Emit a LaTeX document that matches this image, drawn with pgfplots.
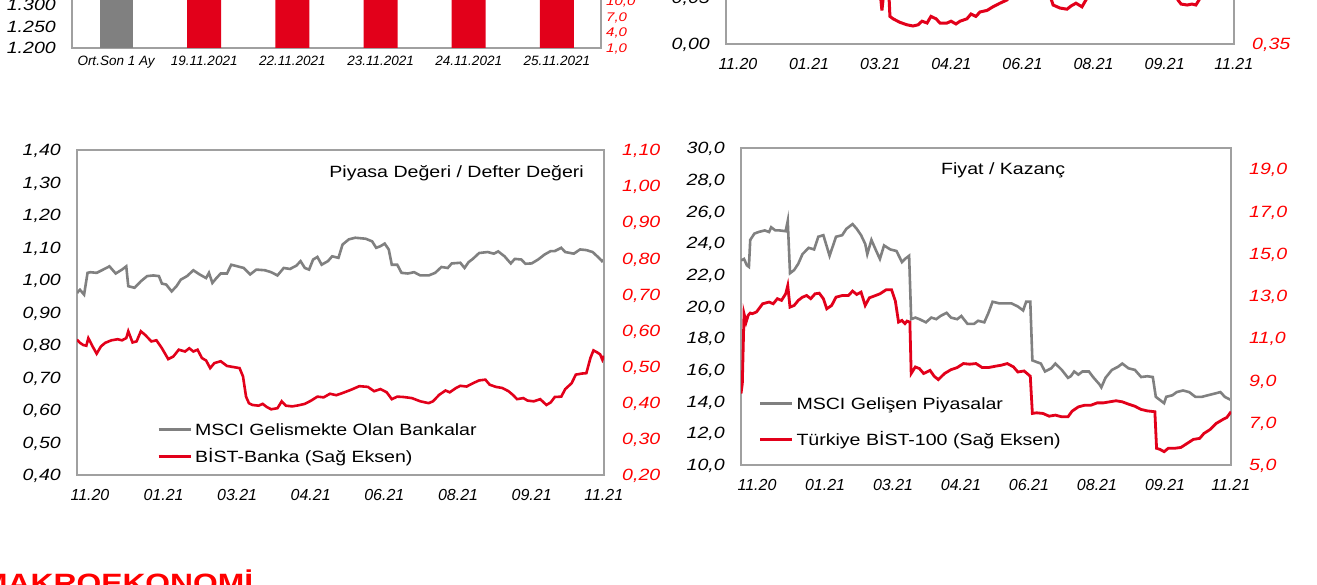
\documentclass[border=0pt]{standalone}
\usepackage{pgfplots}
\pgfplotsset{compat=1.18}
\usepackage{fontspec}
\setmainfont{Liberation Sans}[FakeStretch=1.2]
\newfontfamily\xlabfont{Liberation Sans}[FakeStretch=1.0]
\definecolor{boxgray}{RGB}{160,160,160}
\definecolor{sergray}{RGB}{128,128,128}
\definecolor{serred}{RGB}{226,0,26}
\definecolor{labred}{RGB}{255,0,0}
\pgfplotsset{
  mybase/.style={
    scale only axis, anchor=south west, enlargelimits=false,
    axis line style={draw=boxgray, line width=1.4pt},
    major tick length=0pt,
    /pgf/number format/assume math mode=true,
    /pgf/number format/use comma,
    /pgf/number format/fixed,
    /pgf/number format/fixed zerofill,
    scaled y ticks=false,
    y tick label style={font=\fontsize{16.3}{18}\selectfont\itshape, inner sep=0pt, text depth=0pt},
    x tick label style={font=\xlabfont\fontsize{16}{18}\selectfont\itshape, inner sep=0pt},
    xticklabel shift=14.5pt,
    yticklabel shift=16pt,
  },
  myright/.style={
    axis y line*=right, hide x axis,
    y tick label style={text=labred},
    yticklabel shift=18pt,
  },
  mylegend/.style={
    legend style={draw=none, fill=none, inner sep=0pt, outer sep=0pt,
      column sep=3pt, font=\fontsize{16.3}{18}\selectfont,
      nodes={inner sep=0pt, text height=12pt, text depth=0pt}},
    legend cell align=left,
    legend image code/.code={\draw[##1, line width=3pt] (0pt,0pt) -- (32pt,0pt);},
  },
}
\begin{document}
\begin{tikzpicture}
\useasboundingbox (0pt,0pt) rectangle (1317pt,584pt);
\clip (0pt,0pt) rectangle (1317pt,584pt);

% ---------- top-left bar chart (cut off) ----------
\begin{axis}[mybase, at={(72pt,536pt)}, width=529pt, height=108pt,
  xmin=-0.5, xmax=5.5, ymin=1200, ymax=1451,
  ytick={1200,1250,1300,1350,1400,1450}, /pgf/number format/precision=0,
  xtick={0,1,2,3,4,5},
  xticklabels={Ort.Son 1 Ay,19.11.2021,22.11.2021,23.11.2021,24.11.2021,25.11.2021},
  x tick label style={font=\xlabfont\fontsize{13.5}{15}\selectfont\itshape},
  xticklabel shift=8pt, ytick pos=left, xtick pos=bottom]
\addplot[ybar, bar width=33pt, bar shift=0pt, fill=sergray, draw=none] coordinates {(0,1520)};
\addplot[ybar, bar width=34pt, bar shift=0pt, fill=serred, draw=none] coordinates {(1,1530)(2,1525)(3,1528)(4,1532)(5,1535)};
\end{axis}
\begin{axis}[mybase, myright, at={(72pt,536pt)}, width=529pt, height=108pt,
  xmin=-0.5, xmax=5.5, ymin=1, ymax=21.9, ytick={1,4,7,10,13,16,19},
  /pgf/number format/precision=1,
  y tick label style={font=\fontsize{12.5}{14}\selectfont\itshape},
  yticklabel shift=5pt]
\end{axis}

% ---------- top-right line chart (cut off) ----------
\begin{axis}[mybase, at={(726pt,540pt)}, width=508pt, height=104pt,
  xmin=0, xmax=260, ymin=0, ymax=0.113, ytick={0,0.05,0.1},
  /pgf/number format/precision=2, ytick pos=left, xtick pos=bottom,
  xtick={6.1,42.5,78.9,115.3,151.7,188.1,224.5,259.9},
  xticklabels={11.20,01.21,03.21,04.21,06.21,08.21,09.21,11.21}]
\end{axis}
\begin{axis}[mybase, myright, at={(726pt,540pt)}, width=508pt, height=104pt,
  xmin=0, xmax=260, ymin=0.35, ymax=0.4367, ytick={0.35,0.40,0.45},
  /pgf/number format/precision=2]
\addplot[serred, line width=3pt] coordinates {
(0,0.420)(37.9,0.424)(68.6,0.412)(77.8,0.412)(79.8,0.378)(81.4,0.403)(82.9,0.408)
(83.9,0.373)(85.5,0.371)(89.1,0.368)(92.6,0.366)(95.7,0.365)(98.3,0.366)(100.3,0.369)
(102.9,0.3675)(104.9,0.373)(107.5,0.371)(109.5,0.3675)(113.1,0.3675)(115.2,0.369)
(117.7,0.3667)(119.8,0.369)(123.3,0.371)(125.4,0.375)(127.9,0.373)(130.0,0.3767)
(133.6,0.378)(136.6,0.381)(140.2,0.384)(143.8,0.3867)(147.9,0.395)(155.6,0.412)
(163.3,0.403)(167.4,0.3825)(170.9,0.380)(174.5,0.379)(176.6,0.3817)(179.1,0.384)
(182.2,0.381)(184.2,0.3867)(188.9,0.399)(206.8,0.412)(227.2,0.403)(231.3,0.3867)
(232.9,0.3833)(236.0,0.3825)(238.5,0.3833)(240.5,0.3825)(242.1,0.3867)(247.7,0.408)(260,0.416)};
\end{axis}

% ---------- middle-left chart ----------
\begin{axis}[mybase, at={(77pt,109pt)}, width=527pt, height=325pt,
  xmin=0, xmax=260, ymin=0.4, ymax=1.4,
  ytick={0.4,0.5,0.6,0.7,0.8,0.9,1.0,1.1,1.2,1.3,1.4},
  /pgf/number format/precision=2, ytick pos=left, xtick pos=bottom,
  xtick={6.4,42.7,79.0,115.3,151.6,188.0,224.3,259.9},
  xticklabels={11.20,01.21,03.21,04.21,06.21,08.21,09.21,11.21}]
\addplot[sergray, line width=2.6pt] coordinates {
(0,0.960)(1.45,0.970)(3.5,0.955)(5.2,1.022)(6.6,1.024)(9.7,1.022)(12.9,1.032)(16.0,1.042)
(19.1,1.020)(22.2,1.032)(24.3,1.042)(25.3,0.981)(28.4,0.976)(31.5,0.996)(34.6,1.012)
(37.7,1.014)(40.4,1.012)(41.9,0.989)(44.0,0.986)(46.7,0.965)(49.1,0.981)(51.2,1.001)
(54.3,1.012)(57.4,1.030)(60.5,1.017)(63.7,1.006)(65.1,1.022)(66.8,0.991)(68.8,1.006)
(70.9,1.020)(74.0,1.020)(76.1,1.047)(79.2,1.042)(82.3,1.037)(85.4,1.017)(88.5,1.032)
(92.7,1.030)(95.8,1.024)(98.9,1.014)(102.0,1.037)(105.1,1.034)(108.2,1.044)(110.3,1.058)
(112.4,1.037)(114.5,1.032)(116.5,1.063)(118.6,1.071)(120.7,1.047)(123.8,1.058)(125.9,1.073)
(129.0,1.068)(131.0,1.109)(134.1,1.125)(137.3,1.130)(142.4,1.127)(145.6,1.119)(147.6,1.099)
(149.7,1.104)(151.8,1.112)(153.8,1.094)(155.3,1.047)(158.0,1.047)(160.1,1.022)(163.2,1.020)
(166.3,1.024)(169.4,1.014)(173.5,1.014)(176.7,1.022)(179.8,1.040)(182.9,1.037)(184.9,1.051)
(189.1,1.053)(191.2,1.037)(193.2,1.055)(195.3,1.065)(198.4,1.083)(202.6,1.086)(205.7,1.081)
(207.8,1.088)(210.9,1.073)(214.0,1.051)(216.0,1.065)(219.2,1.063)(221.2,1.050)(224.3,1.051)
(227.5,1.063)(230.6,1.078)(233.7,1.089)(235.7,1.089)(238.9,1.099)(240.9,1.086)(245.1,1.081)
(248.2,1.094)(251.3,1.092)(254.4,1.086)(257.5,1.068)(259.0,1.058)(260,1.063)};
\node[anchor=east, inner sep=0pt, text height=12pt, text depth=0pt,
  font=\fontsize{16.3}{18}\selectfont] at (rel axis cs:0.962,0.934) {Piyasa Değeri / Defter Değeri};
\end{axis}
\begin{axis}[mybase, myright, mylegend, at={(77pt,109pt)}, width=527pt, height=325pt,
  xmin=0, xmax=260, ymin=0.2, ymax=1.1,
  ytick={0.2,0.3,0.4,0.5,0.6,0.7,0.8,0.9,1.0,1.1},
  /pgf/number format/precision=2,
  legend style={at={(0.152,0.16)}, anchor=north west, row sep=15pt}]
\addlegendimage{sergray, line width=2.6pt}
\addlegendentry{MSCI Gelismekte Olan Bankalar}
\addplot[serred, line width=2.6pt] coordinates {
(0,0.575)(1.45,0.566)(3.1,0.560)(4.6,0.558)(5.6,0.579)(7.7,0.556)(9.7,0.536)(11.8,0.556)
(13.9,0.566)(17.0,0.573)(20.1,0.576)(22.2,0.573)(24.3,0.579)(25.3,0.598)(27.4,0.567)
(29.4,0.570)(31.5,0.598)(33.6,0.588)(36.7,0.570)(39.2,0.573)(41.9,0.551)(45.0,0.521)
(47.5,0.528)(50.2,0.547)(53.3,0.542)(55.4,0.551)(57.4,0.542)(59.5,0.547)(61.6,0.524)
(63.7,0.517)(65.7,0.496)(67.8,0.510)(70.9,0.515)(74.0,0.502)(77.1,0.499)(80.2,0.496)
(81.9,0.473)(83.4,0.417)(84.8,0.399)(86.5,0.394)(89.6,0.392)(91.6,0.397)(93.7,0.388)
(95.8,0.382)(98.9,0.385)(101.0,0.404)(103.0,0.392)(106.2,0.390)(109.3,0.393)(112.4,0.397)
(115.5,0.406)(118.6,0.417)(121.7,0.415)(124.8,0.425)(127.9,0.421)(131.0,0.427)(135.2,0.436)
(139.3,0.446)(143.5,0.444)(146.6,0.432)(149.7,0.438)(152.8,0.429)(155.3,0.410)(158.0,0.417)
(161.1,0.416)(165.2,0.413)(169.4,0.404)(173.5,0.399)(175.6,0.404)(178.7,0.422)(181.8,0.434)
(183.9,0.429)(187.0,0.441)(189.1,0.447)(192.2,0.445)(195.3,0.454)(198.4,0.462)(201.5,0.464)
(203.6,0.450)(206.7,0.444)(209.8,0.441)(212.9,0.432)(215.0,0.422)(217.1,0.410)(220.2,0.413)
(222.3,0.406)(225.4,0.404)(228.5,0.410)(231.6,0.394)(233.7,0.401)(235.7,0.416)(238.9,0.417)
(240.9,0.438)(244.0,0.454)(246.1,0.478)(249.2,0.481)(251.3,0.482)(253.3,0.524)(254.8,0.545)
(256.5,0.540)(258.1,0.534)(259.2,0.519)(260,0.530)};
\addlegendentry{BİST-Banka (Sağ Eksen)}
\end{axis}

% ---------- middle-right chart ----------
\begin{axis}[mybase, at={(741pt,119pt)}, width=490pt, height=317pt,
  xmin=0, xmax=260, ymin=10, ymax=30,
  ytick={10,12,14,16,18,20,22,24,26,28,30},
  /pgf/number format/precision=1, ytick pos=left, xtick pos=bottom,
  xtick={8.5,44.6,80.7,116.7,152.8,188.9,225.0,259.9},
  xticklabels={11.20,01.21,03.21,04.21,06.21,08.21,09.21,11.21}]
\addplot[sergray, line width=2.6pt] coordinates {
(0,22.9)(1.6,23.0)(3.1,22.6)(4.2,22.5)(4.9,24.2)(7.1,24.6)(9.3,24.7)(12.6,24.8)(14.9,24.7)
(16.0,25.0)(18.2,24.8)(20.4,24.8)(23.7,24.75)(24.8,25.4)(26.0,22.1)(28.2,22.3)(30.4,22.7)
(32.6,23.3)(35.9,23.7)(38.8,23.6)(41.0,24.4)(43.7,24.5)(47.0,23.2)(50.4,24.4)(53.7,24.5)
(55.9,24.9)(59.2,25.2)(61.4,24.9)(63.7,24.5)(65.9,23.95)(67.0,23.3)(69.2,24.2)(71.4,23.6)
(73.7,23.0)(75.9,23.85)(79.2,23.6)(82.5,23.5)(85.4,22.8)(87.0,23.0)(89.2,23.2)(90.3,19.2)
(92.5,19.3)(94.7,19.2)(98.1,19.0)(101.0,19.3)(103.6,19.2)(105.8,19.4)(109.1,19.6)(111.4,19.3)
(114.7,19.2)(116.9,19.4)(120.2,18.9)(123.6,18.9)(125.8,19.1)(129.1,19.0)(131.3,19.6)
(133.5,20.3)(136.9,20.2)(140.2,20.2)(143.5,20.2)(146.9,20.0)(149.7,19.75)(151.3,20.3)
(153.5,20.3)(154.6,16.6)(156.8,16.5)(159.1,16.4)(161.3,15.9)(164.6,16.1)(166.8,16.4)
(170.2,16.0)(173.5,15.5)(175.0,15.6)(176.8,15.9)(179.0,15.7)(181.2,15.9)(184.6,15.9)
(186.8,15.55)(190.1,15.1)(191.2,14.9)(193.4,15.5)(196.8,16.0)(200.1,16.2)(202.3,16.4)
(205.6,16.1)(209.0,16.0)(212.3,15.55)(215.6,15.6)(218.5,15.55)(220.1,14.3)(222.3,14.1)
(224.5,13.9)(225.6,14.3)(228.9,14.4)(231.2,14.6)(234.5,14.7)(237.8,14.6)(241.1,14.3)
(244.5,14.3)(247.8,14.4)(251.1,14.5)(254.4,14.6)(256.7,14.3)(260,14.1)};
\node[anchor=center, inner sep=0pt, text height=12pt, text depth=0pt,
  font=\fontsize{16.3}{18}\selectfont] at (rel axis cs:0.535,0.934) {Fiyat / Kazanç};
\end{axis}
\begin{axis}[mybase, myright, mylegend, at={(741pt,119pt)}, width=490pt, height=317pt,
  xmin=0, xmax=260, ymin=5, ymax=20,
  ytick={5,7,9,11,13,15,17,19},
  /pgf/number format/precision=1,
  legend style={at={(0.0357,0.2145)}, anchor=north west, row sep=24pt}]
\addlegendimage{sergray, line width=2.6pt}
\addlegendentry{MSCI Gelişen Piyasalar}
\addplot[serred, line width=2.8pt] coordinates {
(0,8.38)(0.7,8.85)(1.6,12.16)(2.7,11.76)(3.8,12.08)(4.9,12.19)(6.0,12.16)(8.2,12.24)
(11.5,12.63)(14.9,12.71)(17.1,12.63)(19.3,12.87)(21.5,12.79)(23.7,13.10)(24.8,13.49)
(26.0,12.47)(28.2,12.55)(30.4,12.79)(32.6,12.94)(34.8,13.02)(37.0,12.87)(39.3,13.10)
(41.5,13.13)(43.7,12.87)(45.5,12.39)(48.1,12.55)(50.4,12.94)(53.7,13.02)(57.0,13.02)
(59.2,13.23)(61.4,13.07)(63.7,13.18)(65.9,12.55)(68.1,12.91)(71.4,13.02)(73.7,13.10)
(77.0,13.29)(79.9,13.29)(81.9,12.76)(83.6,11.76)(85.4,11.84)(87.0,11.69)(88.1,11.81)
(89.6,11.76)(90.3,9.33)(92.5,9.64)(94.7,9.56)(96.9,9.33)(100.3,9.48)(102.5,9.20)(104.7,9.04)
(108.0,9.33)(111.4,9.51)(114.7,9.61)(118.0,9.80)(121.3,9.77)(124.7,9.80)(128.0,9.61)
(131.3,9.61)(134.7,9.67)(138.0,9.72)(141.3,9.80)(144.6,9.64)(146.9,9.40)(150.2,9.45)
(153.5,9.20)(154.6,7.44)(156.8,7.47)(160.2,7.44)(163.5,7.31)(166.8,7.36)(170.2,7.28)
(173.5,7.28)(175.7,7.55)(179.0,7.75)(182.4,7.83)(185.7,7.83)(189.0,7.94)(192.3,7.94)
(195.7,7.99)(199.0,8.04)(202.3,7.99)(205.6,7.88)(209.0,7.78)(212.3,7.63)(215.6,7.56)
(219.6,7.52)(220.5,5.79)(222.3,5.74)(224.5,5.63)(226.7,5.79)(230.0,5.79)(233.4,5.83)
(236.7,6.02)(240.0,6.21)(243.4,6.26)(245.6,6.49)(248.9,6.68)(252.2,6.97)(255.6,7.15)
(257.8,7.25)(260,7.52)};
\addlegendentry{Türkiye BİST-100 (Sağ Eksen)}
\end{axis}

% ---------- cut-off section heading ----------
\node[anchor=base west, inner sep=0pt, text=labred,
  font=\fontsize{26.5}{30}\selectfont\bfseries] at (-19pt,-8.5pt) {MAKROEKONOMİ};
\end{tikzpicture}
\end{document}
